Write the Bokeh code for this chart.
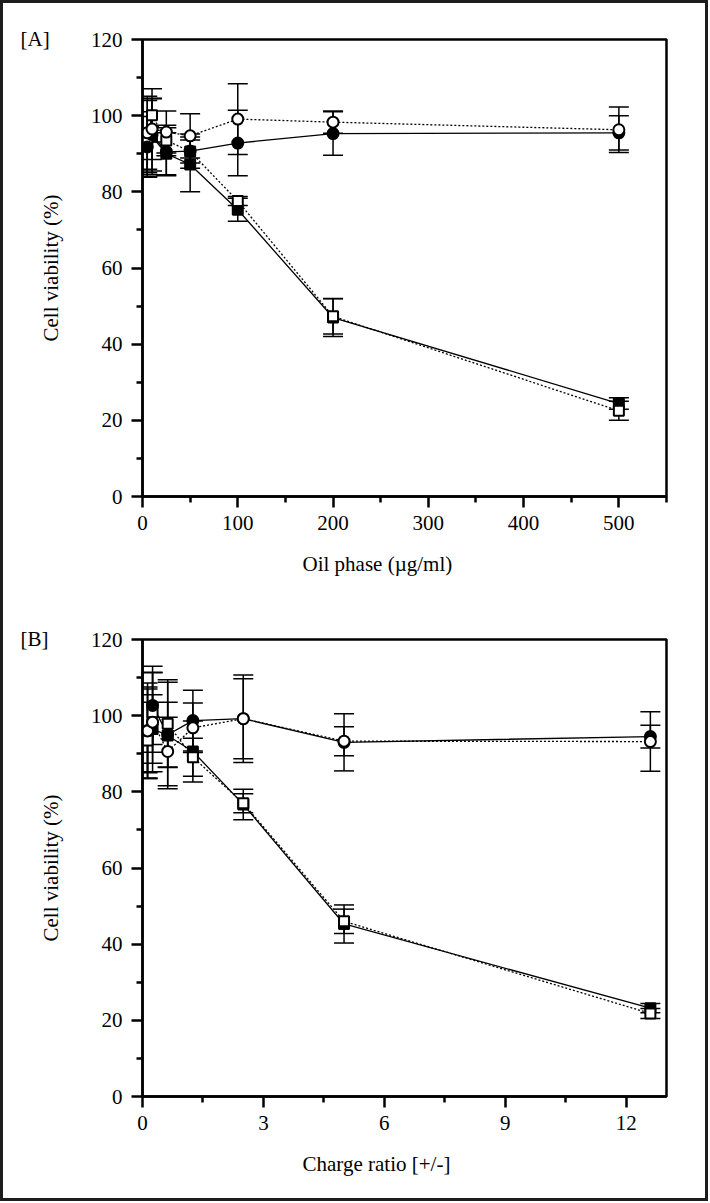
from bokeh.plotting import figure
from bokeh.models import ColumnDataSource, Whisker, TeeHead, Title, Range1d, FixedTicker
from bokeh.layouts import column
from bokeh.embed import file_html
from bokeh.resources import INLINE

# panel A: oil phase dose (ug/ml)
oil_dose = [5, 10, 25, 50, 100, 200, 500]
a_filled_circle = [91.8, 95.0, 90.5, 90.7, 92.8, 95.3, 95.5]
a_filled_circle_err = [8.0, 9.5, 6.3, 4.5, 8.6, 5.7, 4.5]
a_open_circle = [95.5, 96.5, 95.7, 94.7, 99.1, 98.3, 96.3]
a_open_circle_err = [9.6, 8.0, 5.5, 5.8, 9.3, 2.9, 6.0]
a_filled_square = [93.0, 94.5, 90.0, 87.2, 75.3, 47.0, 24.4]
a_filled_square_err = [8.0, 10.0, 5.5, 7.2, 3.0, 5.0, 1.5]
a_open_square = [94.0, 100.1, 93.5, 90.6, 77.6, 47.3, 22.5]
a_open_square_err = [10.0, 7.0, 4.0, 3.0, 1.2, 4.6, 2.5]

# panel B: charge ratio [+/-]
charge_ratio = [0.125, 0.25, 0.625, 1.25, 2.5, 5.0, 12.6]
b_filled_circle = [96.1, 102.7, 95.0, 98.7, 99.2, 93.0, 94.5]
b_filled_circle_err = [12.5, 10.3, 8.5, 8.0, 10.5, 7.5, 3.0]
b_open_circle = [96.0, 98.3, 90.6, 96.8, 99.2, 93.3, 93.2]
b_open_circle_err = [11.0, 13.0, 9.0, 6.5, 11.5, 3.8, 7.8]
b_filled_square = [95.5, 96.5, 94.8, 90.6, 76.7, 45.3, 23.2]
b_filled_square_err = [12.0, 9.0, 14.0, 8.0, 4.0, 5.0, 1.2]
b_open_square = [93.5, 100.9, 97.9, 89.1, 77.0, 46.0, 21.8]
b_open_square_err = [10.0, 10.5, 11.5, 5.0, 2.5, 3.2, 1.3]

y_major = [0, 20, 40, 60, 80, 100, 120]
y_minor = [10, 30, 50, 70, 90, 110]

FONT = "Liberation Serif"


def add_series(p, x, y, err, marker, filled, dotted):
    src = ColumnDataSource(dict(x=x, y=y,
                                upper=[v + e for v, e in zip(y, err)],
                                lower=[v - e for v, e in zip(y, err)]))
    p.add_layout(Whisker(base="x", upper="upper", lower="lower", source=src,
                         dimension="height", line_color="black", line_width=1.5,
                         upper_head=TeeHead(size=20, line_width=1.5),
                         lower_head=TeeHead(size=20, line_width=1.5),
                         level="underlay"))
    p.line("x", "y", source=src, line_color="black", line_width=1.3,
           line_dash="2 2" if dotted else "solid")
    return src, marker, filled


def draw_markers(p, src, marker, filled):
    size = 11 if marker == "circle" else 10
    p.scatter("x", "y", source=src, marker=marker, size=size,
              fill_color="black" if filled else "white",
              line_color="black", line_width=2)


def make_panel(x, groups, x_end, major, minor, xlabel, tag, height, top, bottom):
    p = figure(width=702, height=height, x_range=Range1d(0, x_end), y_range=Range1d(0, 120),
               output_backend="svg", toolbar_location=None,
               min_border_left=139, min_border_right=39, min_border_top=top,
               min_border_bottom=bottom)
    p.grid.visible = False
    p.outline_line_color = "black"
    p.outline_line_width = 2.5
    p.outline_line_alpha = 1
    p.xaxis.ticker = FixedTicker(ticks=major, minor_ticks=minor)
    p.yaxis.ticker = FixedTicker(ticks=y_major, minor_ticks=y_minor)
    p.yaxis.axis_label = "Cell viability (%)"
    for ax in (p.xaxis[0], p.yaxis[0]):
        ax.axis_line_width = 2.5
        ax.axis_line_color = "black"
        ax.major_tick_line_width = 2.5
        ax.minor_tick_line_width = 2.5
        ax.major_tick_out = 11
        ax.major_tick_in = 0
        ax.minor_tick_out = 6
        ax.minor_tick_in = 0
        ax.major_label_text_font = FONT
        ax.major_label_text_font_size = "21px"
        ax.major_label_text_color = "black"
        ax.axis_label_text_font = FONT
        ax.axis_label_text_font_size = "21px"
        ax.axis_label_text_font_style = "normal"
        ax.axis_label_text_color = "black"
    p.xaxis.major_label_standoff = 8
    p.yaxis.major_label_standoff = 9
    p.yaxis.axis_label_standoff = 25

    # x label sits left of the frame centre in the original, so place it as a title
    p.add_layout(Title(text=xlabel, align="left", offset=160, standoff=39,
                       vertical_align="top", text_font=FONT, text_font_size="21px",
                       text_font_style="normal", text_color="black"), "below")

    srcs = [add_series(p, x, y, e, m, f, d) for (y, e, m, f, d) in groups]
    for s in srcs:
        draw_markers(p, *s)

    # panel tag sits left of the y axis, level with the 120 tick
    p.add_layout(Title(text=tag, align="left", offset=-122, standoff=-22,
                       vertical_align="bottom", text_font=FONT, text_font_size="21px",
                       text_font_style="normal", text_color="black"), "above")
    return p


pa = make_panel(
    oil_dose,
    [(a_filled_square, a_filled_square_err, "square", True, False),
     (a_open_square, a_open_square_err, "square", False, True),
     (a_filled_circle, a_filled_circle_err, "circle", True, False),
     (a_open_circle, a_open_circle_err, "circle", False, True)],
    550, [0, 100, 200, 300, 400, 500], [50, 150, 250, 350, 450, 550],
    "Oil phase (\u00b5g/ml)", "[A]", 597, 36, 104)

pb = make_panel(
    charge_ratio,
    [(b_filled_square, b_filled_square_err, "square", True, False),
     (b_open_square, b_open_square_err, "square", False, True),
     (b_filled_circle, b_filled_circle_err, "circle", True, False),
     (b_open_circle, b_open_circle_err, "circle", False, True)],
    13, [0, 3, 6, 9, 12], [1.5, 4.5, 7.5, 10.5],
    "Charge ratio [+/-]", "[B]", 598, 39, 102)

layout = column(pa, pb, styles={"border": "3px solid #1c1c1c"})

open("out.html", "w").write(file_html(layout, INLINE))
